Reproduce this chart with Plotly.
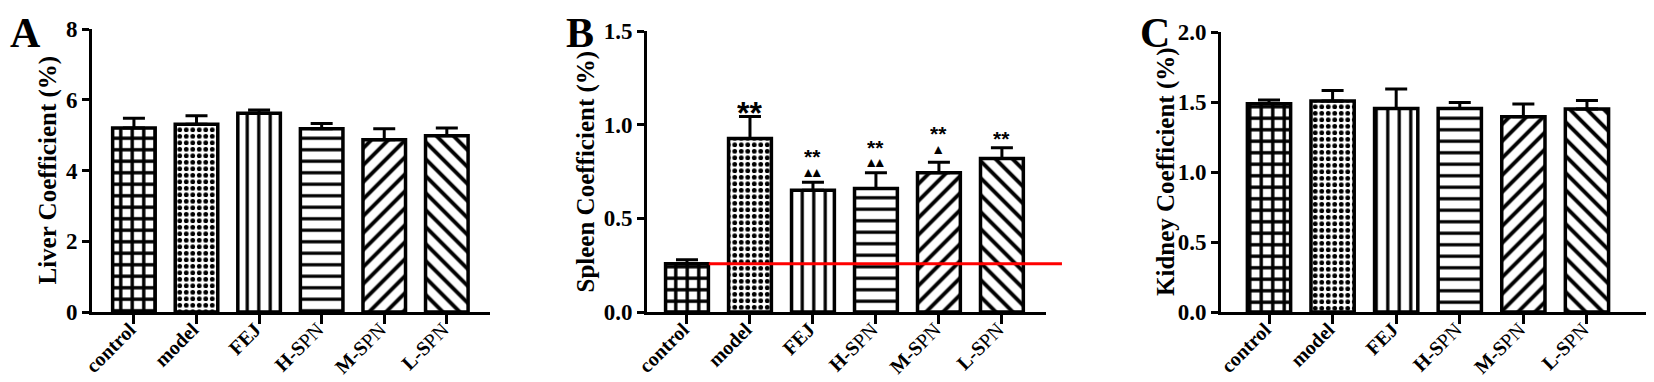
import plotly.graph_objects as go

categories = ["control", "model", "FEJ", "H-SPN", "M-SPN", "L-SPN"]
tick_text = ["<b>control</b>", "<b>model</b>", "<b>FEJ</b>", "<b>H-S</b>PN", "<b>M-S</b>PN", "<b>L-S</b>PN"]

liver_mean = [5.20, 5.31, 5.62, 5.18, 4.87, 4.98]
liver_err = [0.28, 0.24, 0.09, 0.15, 0.31, 0.22]

spleen_mean = [0.257, 0.926, 0.650, 0.659, 0.743, 0.819]
spleen_err = [0.022, 0.118, 0.043, 0.084, 0.057, 0.058]

kidney_mean = [1.488, 1.507, 1.454, 1.454, 1.395, 1.450]
kidney_err = [0.026, 0.075, 0.139, 0.042, 0.091, 0.061]

spleen_stars = ["", "**", "**", "**", "**", "**"]
spleen_tri = ["", "", "▲▲", "▲▲", "▲", ""]

patterns = ["+", ".", "|", "-", "/", "\\"]
pat_size = [11.5, 6.5, 11.5, 11.5, 12, 12]
pat_sol = [0.5, 0.42, 0.28, 0.28, 0.32, 0.32]

W, H = 1654, 382
SERIF = "Liberation Serif"

panels = [
    dict(mean=liver_mean, err=liver_err, title="Liver Coefficient (%)", letter="A",
         xpx=(84, 482), ytop=21, yrange=[0, 8], dtick=2, fmt="d", xr=[-0.67, 5.69],
         title_x=39, letter_x=0),
    dict(mean=spleen_mean, err=spleen_err, title="Spleen Coefficient (%)", letter="B",
         xpx=(639, 1038), ytop=23, yrange=[0, 1.5], dtick=0.5, fmt=".1f", xr=[-0.635, 5.70],
         title_x=577, letter_x=556),
    dict(mean=kidney_mean, err=kidney_err, title="Kidney Coefficient (%)", letter="C",
         xpx=(1213, 1654), ytop=24, yrange=[0, 2.0], dtick=0.5, fmt=".1f", xr=[-0.755, 6.18],
         title_x=1158, letter_x=1130),
]
YBOT = 304

fig = go.Figure()
annotations = []
for i, p in enumerate(panels):
    n = "" if i == 0 else str(i + 1)
    xa, ya = "x" + n, "y" + n
    fig.add_trace(go.Bar(
        x=list(range(len(categories))), y=p["mean"], width=0.68,
        xaxis=xa, yaxis=ya,
        marker=dict(color="white", line=dict(color="black", width=3.5),
                    pattern=dict(shape=patterns, size=pat_size, solidity=pat_sol,
                                 fgcolor="black", bgcolor="white", fgopacity=1,
                                 fillmode="replace")),
        error_y=dict(type="data", array=p["err"], arrayminus=[0] * len(p["err"]),
                     symmetric=False, color="black", thickness=3, width=11),
        showlegend=False,
    ))
    dom_x = [p["xpx"][0] / W, p["xpx"][1] / W]
    dom_y = [1 - YBOT / H, 1 - p["ytop"] / H]
    fig.update_layout(**{
        ("xaxis" + n): dict(domain=dom_x, range=p["xr"], anchor=ya, automargin=False,
                            tickmode="array", tickvals=list(range(len(categories))),
                            ticktext=tick_text, tickangle=-45,
                            ticklabelstandoff=-14, ticklabelshift=-4,
                            tickfont=dict(family=SERIF, size=20, color="black"),
                            showline=True, linecolor="black", linewidth=3,
                            ticks="outside", ticklen=9, tickwidth=3, tickcolor="black",
                            showgrid=False, zeroline=False, fixedrange=True),
        ("yaxis" + n): dict(domain=dom_y, range=p["yrange"], anchor=xa, automargin=False,
                            dtick=p["dtick"], tickformat=p["fmt"],
                            tickfont=dict(family=SERIF, size=23, color="black", weight="bold"),
                            showline=True, linecolor="black", linewidth=3,
                            ticks="outside", ticklen=7, tickwidth=3, tickcolor="black",
                            showgrid=False, zeroline=False, fixedrange=True),
    })
    annotations.append(dict(text="<b>" + p["title"] + "</b>", xref="paper", yref="paper",
                            x=p["title_x"] / W, y=(dom_y[0] + dom_y[1]) / 2, textangle=-90,
                            showarrow=False, xanchor="center", yanchor="middle",
                            font=dict(family=SERIF, size=25, color="black")))
    annotations.append(dict(text="<b>" + p["letter"] + "</b>", xref="paper", yref="paper",
                            x=p["letter_x"] / W, y=1, showarrow=False,
                            xanchor="left", yanchor="top",
                            font=dict(family=SERIF, size=42, color="black")))

# significance marks on panel B
for j in range(len(categories)):
    top = spleen_mean[j] + spleen_err[j]
    if spleen_tri[j]:
        annotations.append(dict(text=spleen_tri[j], x=j, y=top, xref="x2", yref="y2",
                                showarrow=False, yanchor="middle", valign="top", height=11,
                                yshift=14 if spleen_tri[j] == "▲" else 11,
                                font=dict(family="DejaVu Sans", size=11, color="black")))
    if spleen_stars[j]:
        big = j == 1
        if big:
            shift = 11
        elif spleen_tri[j] == "▲":
            shift = 33
        elif spleen_tri[j]:
            shift = 30
        else:
            shift = 14
        annotations.append(dict(text="<b>" + spleen_stars[j] + "</b>", x=j, y=top,
                                xref="x2", yref="y2", showarrow=False,
                                yanchor="middle", valign="top", height=14 if not big else 20,
                                yshift=shift,
                                font=dict(family="Liberation Sans", size=32 if big else 21,
                                          color="black")))

# red reference line at control level in panel B
ctrl = spleen_mean[0]
fig.add_shape(type="line", xref="x2 domain", yref="y2", x0=0.155, x1=1.04, y0=ctrl, y1=ctrl,
              line=dict(color="#ff0000", width=3))

fig.update_layout(width=W, height=H, margin=dict(l=0, r=0, t=0, b=0),
                  paper_bgcolor="white", plot_bgcolor="white",
                  annotations=annotations, bargap=0.3)
fig.write_html("out.html")
